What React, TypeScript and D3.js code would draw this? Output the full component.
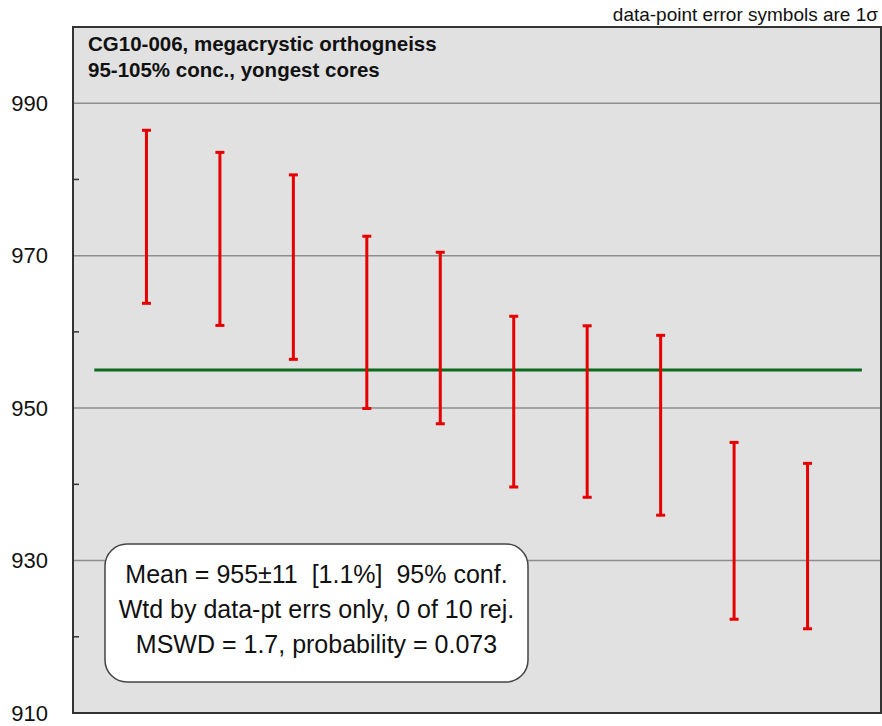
import React from "react";
import * as d3 from "d3";

// Spot ages (Ma) and 1-sigma errors, in plotting order
const spotIndex = [1, 2, 3, 4, 5, 6, 7, 8, 9, 10];
const spotAge = [975.1, 972.2, 968.5, 961.25, 959.2, 950.85, 949.55, 947.75, 933.9, 931.9];
const spotErr = [11.35, 11.35, 12.1, 11.3, 11.25, 11.2, 11.25, 11.8, 11.6, 10.85];

// Weighted mean result
const meanAge = 955;
const meanSpan = [0.29, 10.74];

// Axis ticks
const majorTicks = [910, 930, 950, 970, 990];
const gridTicks = [930, 950, 970, 990];
const minorTicks = [920, 940, 960, 980];

const titleLines = ["CG10-006, megacrystic orthogneiss", "95-105% conc., yongest cores"];
const noteText = "data-point error symbols are 1\u03c3";
const statLines = [
  "Mean = 955\u00b111  [1.1%]  95% conf.",
  "Wtd by data-pt errs only, 0 of 10 rej.",
  "MSWD = 1.7, probability = 0.073",
];

const W = 882;
const H = 726;
const plot = { left: 73, right: 881, top: 27, bottom: 713 };

export default function App() {
  const x = d3.scaleLinear().domain([0, 11]).range([plot.left, plot.right]);
  const y = d3.scaleLinear().domain([910, 1000]).range([plot.bottom, plot.top]);
  const font = "Arial, 'Liberation Sans', sans-serif";
  const capHalf = 4.5;

  return (
    <svg
      width={W}
      height={H}
      style={{ position: "absolute", left: 0, top: 0, background: "#fff" }}
      fontFamily={font}
    >
      {/* plot background */}
      <rect
        x={plot.left}
        y={plot.top}
        width={plot.right - plot.left}
        height={plot.bottom - plot.top}
        fill="#e1e1e1"
      />
      {/* grid lines */}
      {gridTicks.map((t) => (
        <line
          key={"g" + t}
          x1={plot.left}
          x2={plot.right}
          y1={y(t)}
          y2={y(t)}
          stroke="#8e8e8e"
          strokeWidth={1.5}
        />
      ))}
      {/* minor ticks */}
      {minorTicks.map((t) => (
        <line
          key={"m" + t}
          x1={plot.left}
          x2={plot.left + 6}
          y1={y(t)}
          y2={y(t)}
          stroke="#333"
          strokeWidth={1.5}
        />
      ))}
      {/* tick labels */}
      {majorTicks.map((t) => (
        <text
          key={"l" + t}
          x={48}
          y={y(t)}
          dy="0.35em"
          textAnchor="end"
          fontSize={22}
          fill="#111"
        >
          {t}
        </text>
      ))}
      {/* weighted mean line */}
      <line
        x1={x(meanSpan[0])}
        x2={x(meanSpan[1])}
        y1={y(meanAge)}
        y2={y(meanAge)}
        stroke="#0b6a1c"
        strokeWidth={3}
      />
      {/* error bars */}
      {spotIndex.map((i, k) => {
        const cx = x(i);
        const yt = y(spotAge[k] + spotErr[k]);
        const yb = y(spotAge[k] - spotErr[k]);
        return (
          <g key={"e" + i} stroke="#e60000" strokeWidth={3}>
            <line x1={cx} x2={cx} y1={yt} y2={yb} />
            <line x1={cx - capHalf} x2={cx + capHalf} y1={yt} y2={yt} />
            <line x1={cx - capHalf} x2={cx + capHalf} y1={yb} y2={yb} />
          </g>
        );
      })}
      {/* frame */}
      <rect
        x={plot.left}
        y={plot.top}
        width={plot.right - plot.left}
        height={plot.bottom - plot.top}
        fill="none"
        stroke="#333"
        strokeWidth={2}
      />
      {/* title */}
      {titleLines.map((s, i) => (
        <text
          key={"t" + i}
          x={88}
          y={51 + i * 26}
          fontSize={20.5}
          fontWeight="bold"
          fill="#111"
        >
          {s}
        </text>
      ))}
      {/* note */}
      <text x={878} y={21} textAnchor="end" fontSize={19} fill="#111">
        {noteText}
      </text>
      {/* statistics box */}
      <rect x={105} y={544} width={423} height={138} rx={22} ry={22} fill="#fff" stroke="#444" strokeWidth={1.5} />
      {statLines.map((s, i) => (
        <text
          key={"s" + i}
          x={316.5}
          y={583 + i * 35}
          textAnchor="middle"
          fontSize={25}
          fill="#111"
          style={{ whiteSpace: "pre" }}
        >
          {s}
        </text>
      ))}
    </svg>
  );
}
